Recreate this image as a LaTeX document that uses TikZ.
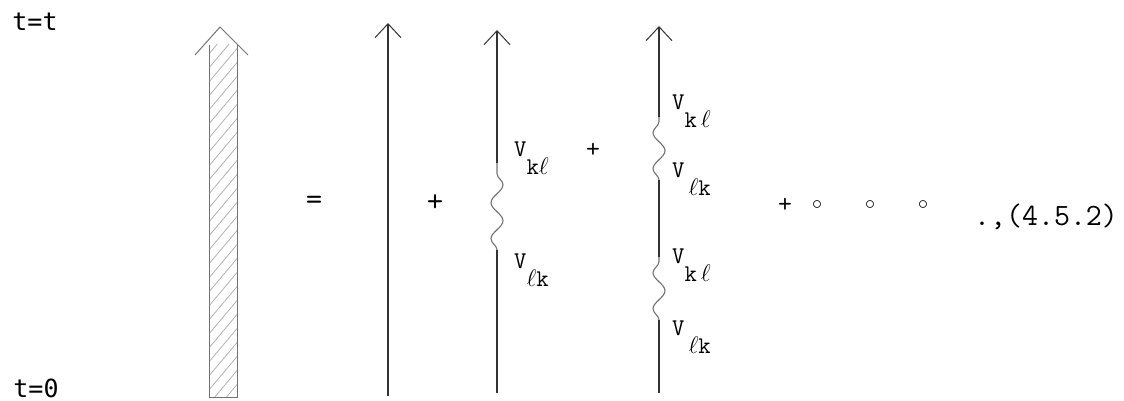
\documentclass[tikz,border=0pt]{standalone}
\usepackage{fix-cm}
\usepackage{fontspec}
\newfontfamily\labfont{DejaVu Sans Mono}
\usepackage{tikz}
\usetikzlibrary{arrows.meta, decorations.pathmorphing, patterns.meta}
\definecolor{ink}{gray}{0.2}
\definecolor{faint}{gray}{0.45}
\tikzset{
  tline/.style={draw=ink, line width=1.3pt},
  tarr/.style={tline, -{Straight Barb[length=14pt, width=26pt, line width=1pt]}},
  wavy/.style={draw=faint, line width=1.1pt, decorate,
               decoration={snake, amplitude=6pt, segment length=36pt}},
  fat/.style={draw=faint, line width=1pt},
  hatch/.style={pattern={Lines[angle=50, distance=9pt, line width=0.8pt]}, pattern color=black!30},
  vlab/.style={anchor=base west, inner sep=0pt, font=\ttfamily\fontsize{24}{26}\selectfont},
  op/.style={inner sep=0pt, font=\ttfamily\fontsize{32}{34}\selectfont},
  sop/.style={inner sep=0pt, font=\ttfamily\fontsize{27}{29}\selectfont},
  dotc/.style={inner sep=0pt, font=\fontsize{20}{22}\selectfont},
  tlab/.style={inner sep=0pt, font=\labfont\fontsize{25}{27}\selectfont},
  eqno/.style={anchor=base west, inner sep=0pt, font=\ttfamily\fontsize{31}{33}\selectfont},
}
\newcommand\vsub[1]{V\raisebox{-18pt}{#1}}

\begin{document}
\begin{tikzpicture}[x=1pt, y=-1pt]
  \useasboundingbox (0,0) rectangle (1124,401);
  % ---------------- time labels ----------------
  \node[tlab] (tt) at (35,22) {t=t};
  \node[tlab] (t0) at (36,388) {t=0};

  % ---------------- full line ----------------
  \fill[hatch] (209,45) rectangle (237,397);
  \draw[fat] (209,45) -- (209,397) -- (237,397) -- (237,45);
  \draw[fat] (195,55) -- (220,27) -- (248,55);
  \node[op] (eq) at (314,203) {=};

  % ---------------- bare line ----------------
  \coordinate (b1) at (388,396);
  \coordinate (e1) at (388,23);
  \draw[tarr] (b1) -- (e1);
  \node[op] (p1) at (435,203) {+};

  % ---------------- one exchange ----------------
  \coordinate (b2) at (497,393);
  \coordinate (w2a) at (497,250);
  \coordinate (w2b) at (497,163);
  \coordinate (e2) at (497,30);
  \draw[tline] (b2) -- (w2a);
  \draw[wavy] (w2a) -- (w2b);
  \draw[tarr] (w2b) -- (e2);
  \node[vlab] (v2a) at (514,157) {\vsub{k$\ell$}};
  \node[vlab] (v2b) at (514,268) {\vsub{$\ell$k}};
  \node[sop] (p2) at (593,150) {+};

  % ---------------- two exchanges ----------------
  \coordinate (b3) at (659,393);
  \coordinate (w3a) at (659,320);
  \coordinate (w3b) at (659,257);
  \coordinate (w3c) at (659,180);
  \coordinate (w3d) at (659,117);
  \coordinate (e3) at (659,26);
  \draw[tline] (b3) -- (w3a);
  \draw[wavy] (w3a) -- (w3b);
  \draw[tline] (w3b) -- (w3c);
  \draw[wavy] (w3c) -- (w3d);
  \draw[tarr] (w3d) -- (e3);
  \foreach \y/\s [count=\i] in {110/{k\,$\ell$}, 177/{\,$\ell$k}, 263/{k\,$\ell$}, 335/{\,$\ell$k}}
    \node[vlab] (v3-\i) at (672,\y) {\vsub{\s}};

  % ---------------- and so on ----------------
  \node[sop] (p3) at (785,205) {+};
  \foreach \x [count=\i] in {817,870,923}
    \node[dotc] (d\i) at (\x,205) {$\circ$};
  \node[eqno] (no) at (974,225) {.,(4.5.2)};
\end{tikzpicture}
\end{document}
